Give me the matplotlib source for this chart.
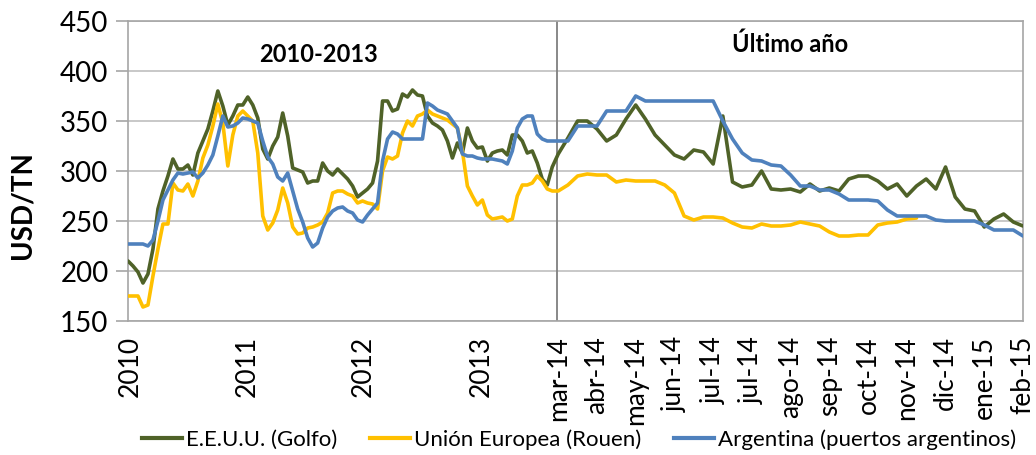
import numpy as np
import matplotlib
matplotlib.use("Agg")
import matplotlib.pyplot as plt
from matplotlib.lines import Line2D

plt.rcParams['font.family'] = ['Lato', 'DejaVu Sans']

# ---------------- data ----------------
series_names = ["E.E.U.U. (Golfo)", "Unión Europea (Rouen)", "Argentina (puertos argentinos)"]
series_colors = ["#4F6228", "#FFC000", "#4F81BD"]

left_ticklabels = ["2010", "2011", "2012", "2013"]
right_ticklabels = ["mar-14", "abr-14", "may-14", "jun-14", "jul-14", "jul-14", "ago-14",
                    "sep-14", "oct-14", "nov-14", "dic-14", "ene-15", "feb-15"]

# 2010-2013 segment (sampled at regular intervals)
usa_2010_2013 = [210, 205, 199, 188, 197, 222, 262, 280, 295, 312,
                 302, 302, 306, 296, 318, 330, 342, 360, 380, 365,
                 346, 355, 366, 366, 374, 366, 353, 322, 312, 325,
                 334, 358, 335, 303, 301, 299, 288, 290, 290, 308,
                 300, 296, 302, 297, 292, 285, 274, 278, 282, 288,
                 310, 370, 370, 360, 362, 377, 374, 381, 376, 375,
                 355, 348, 345, 341, 330, 313, 328, 318, 343, 330,
                 323, 324, 310, 318, 320, 321, 316, 336, 336, 330,
                 318, 320, 308, 292, 286, 304]
ue_2010_2013 = [175, 175, 175, 164, 166, 195, 222, 247, 247, 288,
                281, 280, 287, 275, 290, 313, 326, 345, 367, 348,
                305, 336, 355, 360, 355, 350, 318, 255, 241, 248,
                261, 283, 268, 244, 237, 238, 243, 244, 246, 249,
                258, 278, 280, 280, 277, 275, 268, 270, 268, 267,
                262, 300, 314, 312, 315, 338, 350, 345, 355, 357,
                361, 357, 355, 353, 351, 347, 343, 320, 285, 275,
                266, 271, 256, 252, 253, 254, 250, 252, 275, 286,
                286, 288, 295, 290, 282, 280]
arg_2010_2013 = [227, 227, 227, 227, 225, 231, 250, 271, 281, 291,
                 298, 297, 298, 299, 293, 298, 306, 316, 335, 355,
                 344, 345, 348, 353, 352, 350, 348, 330, 314, 307,
                 294, 290, 298, 280, 262, 249, 233, 224, 228, 243,
                 254, 260, 263, 264, 260, 258, 251, 249, 256, 262,
                 268, 310, 332, 339, 337, 332, 332, 332, 332, 332,
                 368, 365, 361, 359, 357, 350, 343, 317, 315, 315,
                 313, 312, 312, 312, 311, 310, 307, 320, 343, 352,
                 355, 355, 337, 332, 330, 330]

# Last year segment (weekly, mar-14 .. feb-15)
usa_last = [317, 333, 350, 350, 342, 330, 336, 352, 366, 352,
            336, 326, 316, 312, 321, 319, 307, 355, 289, 284,
            286, 300, 282, 281, 282, 279, 287, 280, 283, 280,
            292, 295, 295, 290, 282, 287, 275, 285, 292, 282,
            304, 274, 262, 260, 244, 252, 257, 249, 245]
ue_last = [280, 286, 295, 297, 296, 296, 289, 291, 290, 290,
           290, 286, 278, 255, 251, 254, 254, 253, 248, 244,
           243, 247, 245, 245, 246, 249, 247, 245, 239, 235,
           235, 236, 236, 246, 248, 249, 252, 253] + [np.nan] * 11
arg_last = [330, 330, 345, 345, 345, 360, 360, 360, 375, 370,
            370, 370, 370, 370, 370, 370, 370, 350, 332, 318,
            311, 310, 306, 305, 296, 285, 285, 281, 281, 277,
            271, 271, 271, 270, 261, 255, 255, 255, 255, 251,
            250, 250, 250, 250, 246, 241, 241, 241, 235]

left_series = [usa_2010_2013, ue_2010_2013, arg_2010_2013]
right_series = [usa_last, ue_last, arg_last]

# ---------------- layout of the two-part category axis ----------------
LEFT_STEP = 5.0
RIGHT_START = 431.0
RIGHT_STEP = 9.7
DIVIDER = 429.5
year_tick_pos = [2, 119, 236, 354]
label_every = 4

n_left = len(usa_2010_2013)
n_right = len(usa_last)
x_left = np.arange(n_left) * LEFT_STEP
x_right = RIGHT_START + np.arange(n_right) * RIGHT_STEP
x_all = np.concatenate([x_left, x_right])

W, H = 1036, 456
fig = plt.figure(figsize=(W / 100, H / 100), dpi=100)
ax = fig.add_axes([128 / W, 1 - 322 / H, (1023 - 128) / W, 300 / H])

for name, col, lv, rv in zip(series_names, series_colors, left_series, right_series):
    y = np.concatenate([np.array(lv, float), np.array(rv, float)])
    ax.plot(x_all, y, color=col, lw=2.6, solid_joinstyle='round', solid_capstyle='round', zorder=3)

ax.axvline(DIVIDER, color='#7f7f7f', lw=1.3, zorder=2)

ax.set_xlim(0, x_right[-1])
ax.set_ylim(150, 450)
ax.set_yticks(np.arange(150, 451, 50))
ax.yaxis.grid(True, color='#bfbfbf', lw=1.2)
ax.set_axisbelow(True)

xt = list(year_tick_pos) + list(x_right[::label_every])
xl = left_ticklabels + right_ticklabels
ax.set_xticks(xt)
ax.set_xticklabels(xl, rotation=90, fontsize=19, va='top', ha='center')
ax.tick_params(axis='x', length=0, pad=10)
ax.tick_params(axis='y', length=9, color='#a6a6a6', width=1.2, labelsize=20, pad=5)

for s in ax.spines.values():
    s.set_color('#a6a6a6')
    s.set_linewidth(1.2)

fig.text(318 / W, 1 - 55 / H, "2010-2013", fontsize=17, fontweight='bold', ha='center', va='center')
fig.text(790 / W, 1 - 44 / H, "Último año", fontsize=17, fontweight='bold', ha='center', va='center')
fig.text(22 / W, 1 - 205 / H, "USD/TN", fontsize=20, fontweight='bold', rotation=90, ha='center', va='center')

handles = [Line2D([0], [0], color=c, lw=3) for c in series_colors]
fig.legend(handles, series_names, loc='center', bbox_to_anchor=(579 / W, 1 - 440 / H), ncol=3,
           frameon=False, fontsize=16, handlelength=1.8, handletextpad=0.15, columnspacing=1.5,
           borderaxespad=0, borderpad=0)

fig.savefig("out.png", dpi=100)
